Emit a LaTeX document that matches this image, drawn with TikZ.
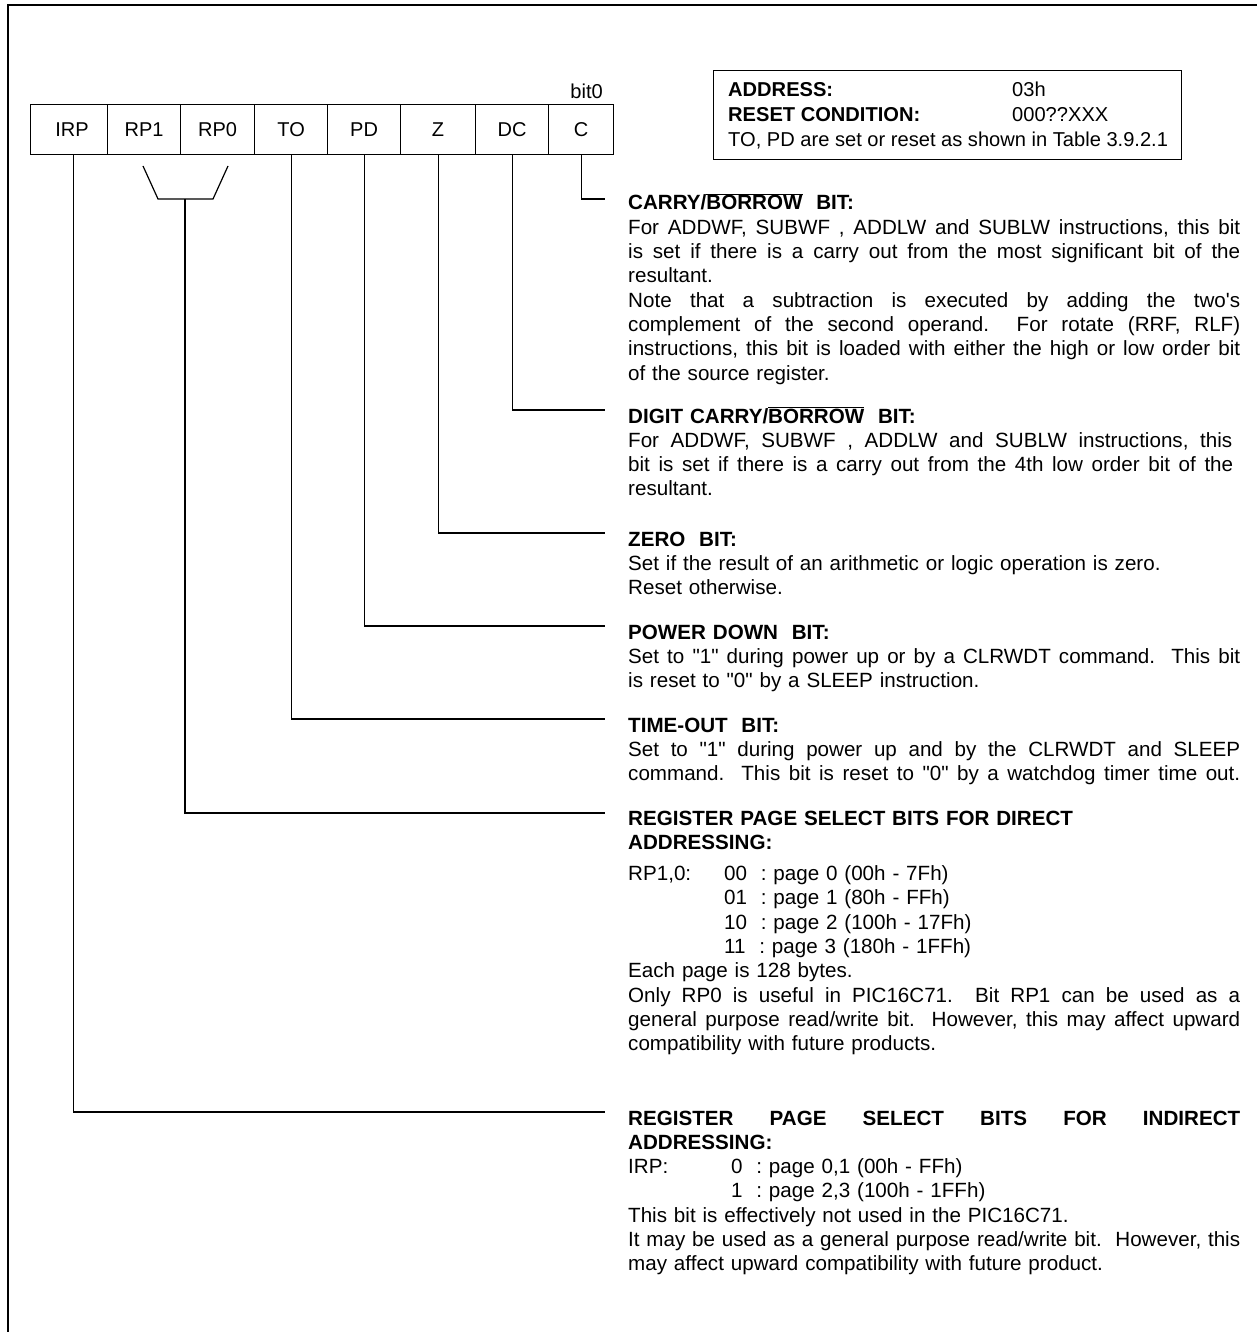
\documentclass[tikz,border=0pt]{standalone}
\usepackage{fontspec}
\setmainfont{Liberation Sans}[Ligatures=TeXOff]
\usetikzlibrary{calc}
\newcommand\ovl[1]{$\overline{\mbox{#1}}$}
\newcommand\jl[2][612pt]{\leavevmode\hbox to #1{\spaceskip=0pt\xspaceskip=0pt #2}}
\tikzset{
  ln/.style={line width=1.2pt},
  cell/.style={draw, line width=1.2pt, minimum height=50pt, inner sep=0pt, anchor=north west,
    font=\fontsize{20}{24}\selectfont},
  desc/.style={anchor=base west, inner sep=0pt, text width=612pt, align=left,
    font=\fontsize{20.6}{24.3}\selectfont\frenchspacing},
  boxtxt/.style={anchor=base west, inner sep=0pt, font=\fontsize{20.1}{24}\selectfont},
}
\begin{document}
\begin{tikzpicture}[x=1pt,y=-1pt]
\useasboundingbox (0,0) rectangle (1257,1332);
% partial frame
\draw[ln] (1257,5) -- (8,5) -- (8,1332);

% register cells
\node[cell, minimum width=77pt] (irp) at (30,104) {\hspace*{6pt}IRP};
\node[cell, minimum width=73pt] (rp1) at (107,104) {RP1};
\node[cell, minimum width=74pt] (rp0) at (180,104) {RP0};
\node[cell, minimum width=73pt] (to) at (254,104) {TO};
\node[cell, minimum width=73pt] (pd) at (327,104) {PD};
\node[cell, minimum width=75pt] (z) at (400,104) {Z};
\node[cell, minimum width=73pt] (dc) at (475,104) {DC};
\node[cell, minimum width=65pt] (c) at (548,104) {C};
\node[boxtxt, anchor=base east] (bit0) at (603,99) {bit0};

% address box
\node[draw, ln, anchor=north west, minimum width=468pt, minimum height=89pt, inner sep=0pt] (addr) at (713,70) {};
\node[boxtxt] (a1) at (728,97) {\textbf{ADDRESS:}};
\node[boxtxt] (a1v) at (1012,97) {03h};
\node[boxtxt] (a2) at (728,122) {\textbf{RESET CONDITION:}};
\node[boxtxt] (a2v) at (1012,122) {000??XXX};
\node[boxtxt] (a3) at (728,147) {TO, PD are set or reset as shown in Table 3.9.2.1};

% descriptions
\node[desc] (carry) at (628,210) {\textbf{CARRY/\ovl{BORROW}\ \ BIT:}\\
\jl{For ADDWF, SUBWF , ADDLW and SUBLW instructions, this bit}\\
\jl{is set if there is a carry out from the most significant bit of the}\\
resultant.\\
\jl{Note that a subtraction is executed by adding the two's}\\
\jl{complement of the second operand.\ \ For rotate (RRF, RLF)}\\
\jl{instructions, this bit is loaded with either the high or low order bit}\\
of the source register.};

\node[desc] (dcd) at (628,423) {\textbf{DIGIT CARRY/\ovl{BORROW}\ \ BIT:}\\
\jl[604pt]{For ADDWF, SUBWF , ADDLW and SUBLW instructions, this}\\
\jl[605pt]{bit is set if there is a carry out from the 4th low order bit of the}\\
resultant.};

\node[desc] (zd) at (628,546) {\textbf{ZERO\ \ BIT:}\\
Set if the result of an arithmetic or logic operation is zero.\\
Reset otherwise.};

\node[desc] (pdd) at (628,639) {\textbf{POWER DOWN\ \ BIT:}\\
\jl{Set to "1" during power up or by a CLRWDT command.\ \ This bit}\\
is reset to "0" by a SLEEP instruction.};

\node[desc] (tod) at (628,732) {\textbf{TIME-OUT\ \ BIT:}\\
\jl{Set to "1" during power up and by the CLRWDT and SLEEP}\\
\jl{command.\ \ This bit is reset to "0" by a watchdog timer time out.}};

\node[desc] (rpd) at (628,825) {\textbf{REGISTER PAGE SELECT BITS FOR DIRECT}\\
\textbf{ADDRESSING:}\\[7pt]
\makebox[96pt][l]{RP1,0:}00\ \ : page 0 (00h - 7Fh)\\
\hspace*{96pt}01\ \ : page 1 (80h - FFh)\\
\hspace*{96pt}10\ \ : page 2 (100h - 17Fh)\\
\hspace*{96pt}11\ \ : page 3 (180h - 1FFh)\\
Each page is 128 bytes.\\
\jl{Only RP0 is useful in PIC16C71.\ \ Bit RP1 can be used as a}\\
\jl{general purpose read/write bit.\ \ However, this may affect upward}\\
compatibility with future products.};

\node[desc] (irpd) at (628,1125) {\jl{\textbf{REGISTER PAGE SELECT BITS FOR INDIRECT}}\\
\textbf{ADDRESSING:}\\
\makebox[103pt][l]{IRP:}0\ \ : page 0,1 (00h - FFh)\\
\hspace*{103pt}1\ \ : page 2,3 (100h - 1FFh)\\
This bit is effectively not used in the PIC16C71.\\
\jl{It may be used as a general purpose read/write bit.\ \ However, this}\\
may affect upward compatibility with future product.};

% connector ends
\coordinate (cE) at (605,199);
\coordinate (dcE) at (605,410);
\coordinate (zE) at (605,533);
\coordinate (pdE) at (605,626);
\coordinate (toE) at (605,719);
\coordinate (rpE) at (605,813);
\coordinate (irpE) at (605,1112);
% RP bracket
\coordinate (b1) at (143,166);
\coordinate (b2) at (158,199);
\coordinate (b3) at (213,199);
\coordinate (b4) at (228,166);
\coordinate (bm) at (185,199);

\draw[ln] (c.south) |- (cE);
\draw[ln] (dc.south) |- (dcE);
\draw[ln] (z.south) |- (zE);
\draw[ln] (pd.south) |- (pdE);
\draw[ln] (to.south) |- (toE);
\draw[ln] (b1) -- (b2) -- (b3) -- (b4);
\draw[ln] (bm) |- (rpE);
\draw[ln] ([xshift=4pt]irp.south) |- (irpE);
\end{tikzpicture}
\end{document}
